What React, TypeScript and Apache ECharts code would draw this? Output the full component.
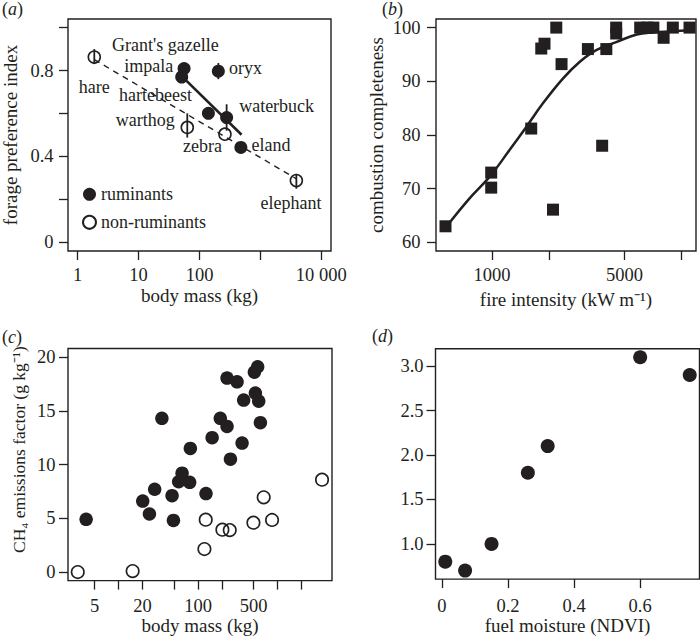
import React, { useEffect, useRef } from 'react';
import * as echarts from 'echarts';

// ---------- (a) forage preference vs body mass ----------
const rumNames = ["Grant's gazelle", 'impala', 'oryx', 'hartebeest', 'waterbuck', 'eland'];
const rumMass = [55.8, 51, 204, 140, 279, 478];
const rumPref = [0.809, 0.77, 0.797, 0.601, 0.581, 0.442];
const nonNames = ['hare', 'warthog', 'zebra', 'elephant'];
const nonMass = [1.87, 63, 262, 3900];
const nonPref = [0.863, 0.535, 0.504, 0.288];
const errMass = [1.87, 63, 204, 279, 3900];
const errLow = [0.83, 0.488, 0.76, 0.52, 0.25];
const errHigh = [0.9, 0.601, 0.835, 0.643, 0.319];
const rumFitMass = [51, 491];
const rumFitPref = [0.774, 0.501];
const nonFitMass = [1.87, 3900];
const nonFitPref = [0.851, 0.296];
const aMassTicks = [1, 10, 100, 1000, 10000];
const aMassLabels = [1, 10, 100, 10000];
const aPrefTicks = [0, 0.2, 0.4, 0.6, 0.8, 1.0];
const aPrefLabels = [0, 0.4, 0.8];

// ---------- (b) combustion completeness vs fire intensity ----------
const intensity = [569, 991, 991, 1611, 1820, 1893, 2098, 2184, 2328, 3206, 3812, 4010, 4520, 4520, 6050, 6600, 7100, 8040, 8990, 11010];
const completeness = [63, 73, 70.2, 81.2, 96.1, 97, 66.1, 100, 93.2, 96, 78, 96, 100, 98.9, 100, 100, 100, 98.1, 100, 100];
const fitIntensity = [574, 762, 971, 1238, 1517, 1857, 2366, 2897, 3548, 4520, 5807, 7113, 8710, 10965];
const fitCompleteness = [62.9, 68.2, 72.2, 77.2, 81.5, 85.9, 90.5, 93.6, 95.8, 97.3, 98.7, 99.1, 99.3, 99.5];
const bIntTicks = [1000, 2000, 5000, 10000];
const bIntLabels = [1000, 5000];
const bCompTicks = [60, 70, 80, 90, 100];

// ---------- (c) CH4 emissions factor vs body mass ----------
const cRumMass = [3.9, 20.1, 24.4, 28.4, 35, 47, 48.9, 62.8, 56.9, 78.3, 79.8, 125.6, 150, 190, 231, 231, 255, 309, 357, 374, 510, 561, 525, 578, 607];
const cRumCH4 = [4.9, 6.6, 5.4, 7.7, 14.3, 7.1, 4.8, 9.2, 8.4, 8.35, 11.5, 7.3, 12.5, 14.3, 13.55, 18.05, 10.5, 17.7, 12.0, 16.0, 18.6, 19.1, 16.65, 15.9, 13.9];
const cNonMass = [3.06, 15.0, 120, 124.6, 202, 250, 496, 668, 851, 3620];
const cNonCH4 = [0, 0.09, 2.14, 4.87, 3.94, 3.9, 4.59, 6.95, 4.84, 8.59];
const cMassTicks = [5, 10, 20, 50, 100, 200, 500, 1000, 2000];
const cMassLabels = [5, 20, 100, 500];
const cCH4Ticks = [0, 5, 10, 15, 20];

// ---------- (d) vs fuel moisture ----------
const ndvi = [0.01, 0.07, 0.15, 0.26, 0.32, 0.6, 0.75];
const dValue = [0.8, 0.7, 1.0, 1.8, 2.1, 3.1, 2.9];
const dNdviTicks = [0, 0.2, 0.4, 0.6];
const dValueTicks = [1.0, 1.5, 2.0, 2.5, 3.0];

// ---------- styling ----------
const FONT = "'Liberation Serif', 'Times New Roman', serif";
const INK = '#231f20';
const TICK_FS = 18.5;
const lg = (v: number) => Math.log10(v);

const labelOffset: Record<string, [number, number]> = {
  "Grant's gazelle": [-18.7, -23.4],
  impala: [-33, -10.8],
  oryx: [27.2, -3.4],
  hartebeest: [-52.8, -18.4],
  waterbuck: [50, -12.1],
  eland: [30.2, -2.1],
  hare: [0, 29.9],
  warthog: [-42, -7.8],
  zebra: [-22.5, 11.6],
  elephant: [-5.3, 22.2],
};

const powFmt = (v: number) => {
  const n = Math.round(Math.pow(10, v));
  return n >= 10000 ? String(n).replace(/(\d)(?=(\d{3})+$)/g, '$1 ') : String(n);
};

function makeAxis(o: any) {
  return {
    type: 'value',
    gridIndex: o.grid,
    min: o.min,
    max: o.max,
    position: o.y ? 'left' : 'bottom',
    axisLine: { show: false, onZero: false },
    splitLine: { show: false },
    axisTick: {
      show: true,
      inside: false,
      length: 9,
      customValues: o.ticks,
      lineStyle: { color: INK, width: 1.3 },
    },
    axisLabel: {
      show: true,
      customValues: o.labels,
      margin: o.margin,
      formatter: o.fmt,
      fontFamily: FONT,
      fontSize: TICK_FS,
      color: INK,
      hideOverlap: false,
    },
    name: o.name,
    nameLocation: 'middle',
    nameGap: o.nameGap,
    nameTextStyle: { fontFamily: FONT, fontSize: o.nameSize || 19, color: INK, padding: o.namePad || 0 },
  };
}

const gridStyle = { show: true, borderColor: INK, borderWidth: 1.4, backgroundColor: 'transparent' };

function buildOption() {
  const labelBase = { color: INK, fontFamily: FONT, fontSize: 18, textBorderWidth: 0 };
  const panelLabel = (t: string, x: number, y: number) => ({
    type: 'text',
    x,
    y,
    style: {
      text: '({i|' + t + '})',
      fill: INK,
      font: `18px ${FONT}`,
      verticalAlign: 'middle',
      align: 'left',
      rich: { i: { fontStyle: 'italic', fontFamily: FONT, fontSize: 18, fill: INK } },
    },
  });
  const solid = { color: INK, opacity: 1 };
  const hollow = { color: 'rgba(255,255,255,0)', borderColor: INK, borderWidth: 1.6, opacity: 1 };

  return {
    animation: false,
    backgroundColor: '#ffffff',
    grid: [
      { left: 68, top: 19, width: 263, height: 232, ...gridStyle },
      { left: 436, top: 19, width: 260, height: 232, ...gridStyle },
      { left: 68, top: 348.5, width: 264, height: 232.5, ...gridStyle },
      { left: 435.5, top: 348.7, width: 264, height: 232, ...gridStyle },
    ],
    xAxis: [
      makeAxis({ grid: 0, min: -0.16, max: 4.16, ticks: aMassTicks.map(lg), labels: aMassLabels.map(lg), fmt: powFmt, name: 'body mass (kg)', nameGap: 35, margin: 14 }),
      makeAxis({ grid: 1, min: 2.705, max: 4.076, ticks: bIntTicks.map(lg), labels: bIntLabels.map(lg), fmt: powFmt, name: 'fire intensity (kW m⁻¹)', nameGap: 39, margin: 14 }),
      makeAxis({ grid: 2, min: 0.363, max: 3.684, ticks: cMassTicks.map(lg), labels: cMassLabels.map(lg), fmt: powFmt, name: 'body mass (kg)', nameGap: 34, margin: 15.5 }),
      makeAxis({ grid: 3, min: -0.0196, max: 0.7796, ticks: dNdviTicks, labels: dNdviTicks, fmt: (v: number) => (v === 0 ? '0' : String(+v.toFixed(1))), name: 'fuel moisture (NDVI)', nameGap: 34, margin: 17 }),
    ],
    yAxis: [
      makeAxis({ grid: 0, y: true, min: -0.04, max: 1.04, ticks: aPrefTicks, labels: aPrefLabels, fmt: (v: number) => String(+v.toFixed(1)), name: 'forage preference index', nameGap: 48, margin: 14.5 }),
      makeAxis({ grid: 1, y: true, min: 58.4, max: 101.6, ticks: bCompTicks, labels: bCompTicks, name: 'combustion completeness', nameGap: 50, margin: 15.5 }),
      makeAxis({ grid: 2, y: true, min: -0.8, max: 20.8, ticks: cCH4Ticks, labels: cCH4Ticks, name: 'CH₄ emissions factor (g kg⁻¹)', nameGap: 40, margin: 12.5, nameSize: 17.5, namePad: [0, 0, 0, 30] }),
      makeAxis({ grid: 3, y: true, min: 0.604, max: 3.196, ticks: dValueTicks, labels: dValueTicks, fmt: (v: number) => v.toFixed(1), margin: 12 }),
    ],
    legend: {
      data: ['ruminants', 'non-ruminants'],
      orient: 'vertical',
      left: 82,
      top: 185.3,
      padding: 0,
      itemWidth: 13,
      itemHeight: 13,
      itemGap: 10,
      selectedMode: false,
      textStyle: { fontFamily: FONT, fontSize: 18, color: INK },
    },
    graphic: [
      panelLabel('a', 2, 9),
      panelLabel('b', 382, 8.5),
      panelLabel('c', 2, 336.7),
      panelLabel('d', 372, 335.7),
    ],
    series: [
      // (a)
      {
        type: 'line', xAxisIndex: 0, yAxisIndex: 0, silent: true, symbol: 'none',
        data: nonFitMass.map((m, i) => [lg(m), nonFitPref[i]]),
        lineStyle: { color: INK, width: 1.4, type: [6, 5] },
      },
      {
        type: 'line', xAxisIndex: 0, yAxisIndex: 0, silent: true, symbol: 'none',
        data: rumFitMass.map((m, i) => [lg(m), rumFitPref[i]]),
        lineStyle: { color: INK, width: 2.6 },
      },
      {
        name: 'ruminants', type: 'scatter', xAxisIndex: 0, yAxisIndex: 0, symbol: 'circle', symbolSize: 13,
        itemStyle: solid,
        data: rumNames.map((n, i) => ({
          name: n, value: [lg(rumMass[i]), rumPref[i]],
          label: { show: true, position: 'inside', offset: labelOffset[n], formatter: '{b}', ...labelBase },
        })),
      },
      {
        name: 'non-ruminants', type: 'scatter', xAxisIndex: 0, yAxisIndex: 0, symbol: 'circle', symbolSize: 12,
        itemStyle: hollow,
        data: nonNames.map((n, i) => ({
          name: n, value: [lg(nonMass[i]), nonPref[i]],
          label: { show: true, position: 'inside', offset: labelOffset[n], formatter: '{b}', ...labelBase },
        })),
      },
      {
        type: 'custom', xAxisIndex: 0, yAxisIndex: 0, silent: true, z: 5,
        data: errMass.map((m, i) => [lg(m), errLow[i], errHigh[i]]),
        encode: { x: 0, y: [1, 2] },
        renderItem: (_p: any, api: any) => {
          const a = api.coord([api.value(0), api.value(1)]);
          const b = api.coord([api.value(0), api.value(2)]);
          return { type: 'line', shape: { x1: a[0], y1: a[1], x2: b[0], y2: b[1] }, style: { stroke: INK, lineWidth: 1.8 } };
        },
      },
      // (b)
      {
        type: 'scatter', xAxisIndex: 1, yAxisIndex: 1, symbol: 'rect', symbolSize: 12,
        itemStyle: solid,
        data: intensity.map((v, i) => [lg(v), completeness[i]]),
      },
      {
        type: 'line', xAxisIndex: 1, yAxisIndex: 1, silent: true, symbol: 'none', smooth: 0.4,
        data: fitIntensity.map((v, i) => [lg(v), fitCompleteness[i]]),
        lineStyle: { color: INK, width: 2.5 },
      },
      // (c)
      {
        name: 'c-ruminants', type: 'scatter', xAxisIndex: 2, yAxisIndex: 2, symbol: 'circle', symbolSize: 13.5,
        itemStyle: solid,
        data: cRumMass.map((m, i) => [lg(m), cRumCH4[i]]),
      },
      {
        name: 'c-non-ruminants', type: 'scatter', xAxisIndex: 2, yAxisIndex: 2, symbol: 'circle', symbolSize: 12.5,
        itemStyle: hollow,
        data: cNonMass.map((m, i) => [lg(m), cNonCH4[i]]),
      },
      // (d)
      {
        type: 'scatter', xAxisIndex: 3, yAxisIndex: 3, symbol: 'circle', symbolSize: 14,
        itemStyle: solid,
        data: ndvi.map((v, i) => [v, dValue[i]]),
      },
    ],
  };
}

export default function App() {
  const ref = useRef<HTMLDivElement>(null);
  useEffect(() => {
    if (!ref.current) return;
    const chart = echarts.init(ref.current, undefined, { renderer: 'svg' });
    chart.setOption(buildOption() as any);
    return () => chart.dispose();
  }, []);
  return (
    <div
      ref={ref}
      style={{ position: 'fixed', left: 0, top: 0, width: 700, height: 636, background: '#fff' }}
    />
  );
}
